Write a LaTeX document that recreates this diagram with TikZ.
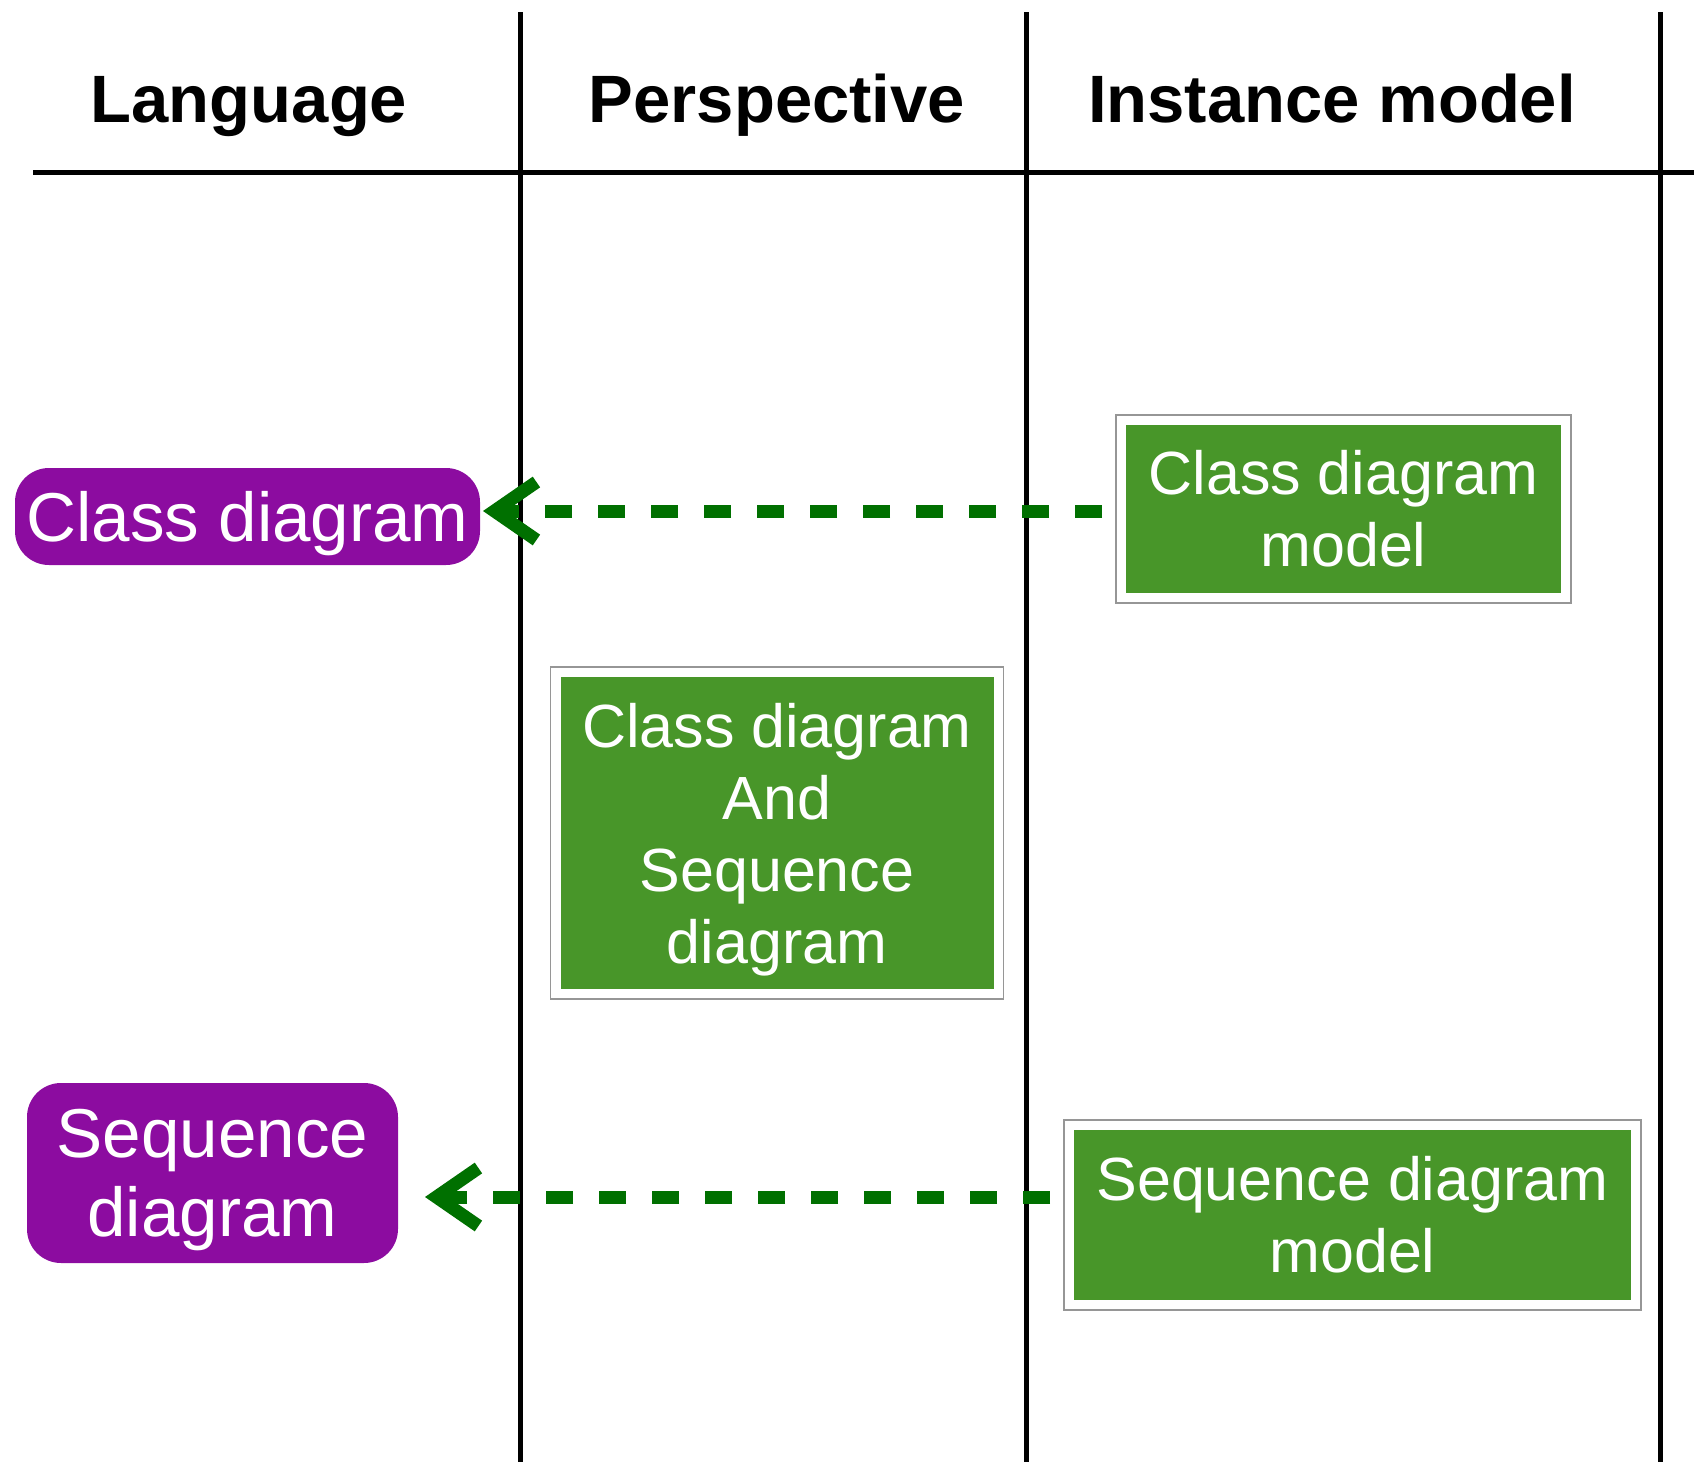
\documentclass[tikz,border=0pt]{standalone}
\usepackage{fontspec}
\setmainfont{Liberation Sans}
\usepackage{xcolor}
\usetikzlibrary{arrows.meta,positioning,fit}

\definecolor{langpurple}{RGB}{140,12,160}
\definecolor{modelgreen}{RGB}{72,150,41}
\definecolor{depgreen}{RGB}{0,112,0}
\definecolor{framegray}{RGB}{150,150,150}

\tikzset{
    header/.style={font=\fontsize{33.5}{40}\selectfont\bfseries, anchor=base},
    lang/.style={fill=langpurple, text=white, rounded corners=17pt, align=center,
        font=\fontsize{34.6}{39.5}\selectfont, text depth=0pt, inner sep=0pt, outer sep=0pt},
    model/.style={fill=modelgreen, text=white, align=center,
        font=\fontsize{30.5}{36}\selectfont, inner sep=0pt, outer sep=0pt},
    frame/.style={draw=framegray, line width=0.8pt, inner sep=5pt, outer sep=0pt},
    lane/.style={line width=2.5pt},
    dep/.style={depgreen, line width=6.5pt, dash pattern=on 13.5pt off 13pt,
        -{Straight Barb[length=21pt,width=29pt]}, shorten <=7pt},
}

\begin{document}
\begin{tikzpicture}[x=0.5pt,y=-0.5pt]
                \useasboundingbox (0,0) rectangle (1694,1462);

                % swim lanes
                \draw[lane] (33,172) -- (1694,172);
                \foreach \x in {520,1026,1660}
                    \draw[lane] (\x,12) -- (\x,1462);

                \node[header] (language) at (249,122) {Language};
                \node[header] (perspective) at (777,122) {Perspective};
                \node[header] (instance) at (1332,122) {Instance model};

                % languages
                \node[lang, minimum width=232.5pt, minimum height=48.5pt] (cd) at (247.5,516.5) {Class diagram};
                \node[lang, minimum width=185.5pt, minimum height=90pt] (sd) at (212.5,1173) {Sequence\\diagram};

                % models
                \node[model, minimum width=217.5pt, minimum height=84pt] (cdm) at (1343.5,509) {Class diagram\\model};
                \node[model, text depth=0pt, minimum width=216.5pt, minimum height=156pt] (cas) at (777,833) {Class diagram\\And\\Sequence\\diagram};
                \node[model, minimum width=278.5pt, minimum height=85pt] (sdm) at (1352.5,1215) {Sequence diagram\\model};
                \node[frame, fit=(cdm)] (cdmf) {};
                \node[frame, fit=(cas)] (casf) {};
                \node[frame, fit=(sdm)] (sdmf) {};

                % conformance
                \coordinate (cdtip) at (483,511);
                \coordinate (sdtip) at (425,1197);
                \draw[dep] (cdmf.west |- cdtip) -- (cdtip);
                \draw[dep] (sdmf.west |- sdtip) -- (sdtip);
            \end{tikzpicture}
\end{document}
